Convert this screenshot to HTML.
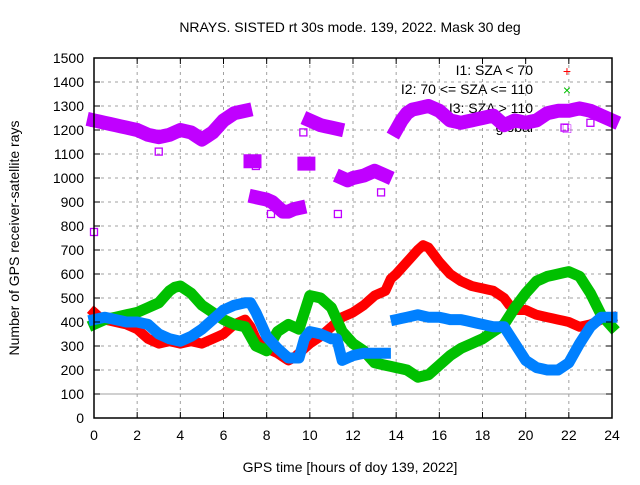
<!DOCTYPE html>
<html><head><meta charset="utf-8"><style>
body{margin:0;background:#fff}
svg text{font-family:"Liberation Sans",sans-serif;font-size:14px;fill:#000}
</style></head><body>
<svg id="chart" width="640" height="480" viewBox="0 0 640 480" xmlns="http://www.w3.org/2000/svg">
<rect width="640" height="480" fill="#fff"/>
<g id="grid"></g>
<g id="legend"></g>
<g id="series"></g>
<g id="axes"></g>
</svg>
<script>
const hours=[];for(let i=0;i<=96;i++)hours.push(i*0.25);
const red=[440,420,410,405,400,395,390,380,370,350,330,320,310,315,320,315,310,315,320,315,310,320,330,340,350,370,390,400,410,380,330,300,290,280,270,255,240,250,270,290,310,325,340,360,380,400,420,430,440,455,470,490,510,520,530,580,600,625,650,675,700,720,710,680,650,625,600,585,570,560,550,545,540,535,530,515,500,470,450,450,450,440,430,425,420,415,410,405,400,390,380,385,390,400,410,415,420];
const green=[390,400,410,415,420,425,430,435,440,450,460,470,480,505,530,545,550,535,520,495,470,455,440,425,410,400,390,385,380,340,300,290,280,320,360,375,390,380,370,440,510,505,500,480,460,410,360,335,310,295,280,255,230,225,220,215,210,205,200,185,170,175,180,200,220,240,260,275,290,300,310,320,330,345,360,375,390,425,460,490,520,545,570,580,590,595,600,605,610,600,590,555,520,475,430,405,380];
const blue=[410,415,420,415,410,405,400,400,400,395,390,370,350,340,330,325,320,330,340,355,370,390,410,430,450,460,470,475,480,480,440,390,340,315,290,270,250,250,250,330,360,355,350,340,330,330,240,250,260,265,270,270,270,270,270,null,410,415,420,425,430,425,420,420,420,415,410,410,410,405,400,395,390,385,380,380,380,345,310,275,240,225,210,205,200,200,200,215,230,270,310,345,380,400,420,420,420];
const globalRays=[1240,1235,1230,1225,1220,1215,1210,1205,1200,1190,1180,1175,1170,1175,1180,1190,1200,1195,1190,1175,1160,1175,1190,1215,1240,1255,1270,1275,1280,1070,920,915,910,900,880,860,860,870,875,1060,1240,1230,1220,1215,1210,1205,1000,990,1000,1005,1010,1020,1030,1020,1010,null,1200,1240,1270,1285,1290,1295,1300,1290,1280,1260,1240,1235,1230,1235,1240,1245,1250,1255,1260,1240,1220,1230,1240,1235,1230,1235,1240,1255,1270,1275,1280,1280,1280,1285,1290,1285,1280,1270,1260,1250,1240];
const outlierHours=[0,0,3,7.5,8.2,9.7,11.3,13.3,21.8,23];
const outlierGlobal=[775,1230,1110,1050,850,1190,850,940,1210,1230];
const yTicks=[0,100,200,300,400,500,600,700,800,900,1000,1100,1200,1300,1400,1500];
const xTicks=[0,2,4,6,8,10,12,14,16,18,20,22,24];
const X0=94,X1=612,Y0=418,Y1=58;
const xs=h=>X0+(X1-X0)*h/24, ys=v=>Y0-(Y0-Y1)*v/1500;
const NS="http://www.w3.org/2000/svg";
function mk(tag,attrs,parent){const e=document.createElementNS(NS,tag);for(const k in attrs)e.setAttribute(k,attrs[k]);parent.appendChild(e);return e;}
const grid=document.getElementById('grid'),axes=document.getElementById('axes'),ser=document.getElementById('series'),leg=document.getElementById('legend');
yTicks.forEach(v=>{const y=ys(v);
 if(v>0&&v<1500){const l=mk('line',{x1:X0,x2:X1,y1:y,y2:y,stroke:'#a0a0a0','stroke-width':1,'stroke-dasharray':v===100?'':'3,4'},grid);
 
 }
 mk('line',{x1:X0,x2:X0+6,y1:y,y2:y,stroke:'#000'},axes);mk('line',{x1:X1,x2:X1-6,y1:y,y2:y,stroke:'#000'},axes);
 const t=mk('text',{x:X0-10,y:y+5,'text-anchor':'end'},axes);t.textContent=v;
 
 });
xTicks.forEach(h=>{const x=xs(h);
 if(h>0&&h<24){const l=mk('line',{x1:x,x2:x,y1:Y1,y2:Y0,stroke:'#a0a0a0','stroke-width':1,'stroke-dasharray':'3,4'},grid);
 
 }
 mk('line',{x1:x,x2:x,y1:Y0,y2:Y0-6,stroke:'#000'},axes);mk('line',{x1:x,x2:x,y1:Y1,y2:Y1+6,stroke:'#000'},axes);
 const t=mk('text',{x:x,y:Y0+22,'text-anchor':'middle'},axes);t.textContent=h;
 
 });
const fr=mk('rect',{x:X0,y:Y1,width:X1-X0,height:Y0-Y1,fill:'none',stroke:'#000','stroke-width':1.5},axes);


const labels=[['I1: SZA < 70','#ff0000','+'],['I2: 70 <= SZA <= 110','#00c000','×'],['I3: SZA > 110','#0080ff','■'],['global','#c000ff','□']];
labels.forEach((l,i)=>{const y=75+i*19;
 const t=mk('text',{x:533,y:y,'text-anchor':'end'},leg);t.textContent=l[0];
 
 
 const m=mk('text',{x:567,y:y+1,'text-anchor':'middle',fill:l[1],style:'fill:'+l[1]},leg);m.textContent=l[2];
 
 });
function drawSeries(vals,color,name,w){
 let segs=[],cur=[];
 vals.forEach((v,i)=>{if(v===null){if(cur.length)segs.push(cur);cur=[];return;}
  if(cur.length){const pv=cur[cur.length-1][2];if(Math.abs(pv-v)>120){segs.push(cur);cur=[];}}
  cur.push([xs(hours[i]),ys(v),v]);});
 if(cur.length)segs.push(cur);
 segs.forEach(s=>{const pts=s.map(p=>p[0].toFixed(1)+','+p[1].toFixed(1));
  if(s.length===1)pts.push((s[0][0]+4).toFixed(1)+','+s[0][1].toFixed(1));
  const p=mk('polyline',{points:pts.join(' '),fill:'none',stroke:color,'stroke-width':w,'stroke-linejoin':'round','stroke-linecap':'square'},ser);
  
  });
}
drawSeries(red,'#ff0000','series-i1-sza-lt-70',10);
drawSeries(green,'#00c000','series-i2-sza-70-110',11);
drawSeries(blue,'#0080ff','series-i3-sza-gt-110',11);
drawSeries(globalRays,'#c000ff','series-global',14);
outlierHours.forEach((h,i)=>{const r=mk('rect',{x:xs(h)-3.5,y:ys(outlierGlobal[i])-3.5,width:7,height:7,fill:'none',stroke:'#c000ff','stroke-width':1.3},ser);
 
 });
const tt=mk('text',{x:350,y:32,'text-anchor':'middle'},axes);tt.textContent='NRAYS. SISTED rt 30s mode. 139, 2022. Mask 30 deg';


const xl=mk('text',{x:350,y:472,'text-anchor':'middle'},axes);xl.textContent='GPS time [hours of doy 139, 2022]';


const yl=mk('text',{x:19,y:238,'text-anchor':'middle',transform:'rotate(-90 19 238)'},axes);yl.textContent='Number of GPS receiver-satellite rays';


</script>
</body></html>
